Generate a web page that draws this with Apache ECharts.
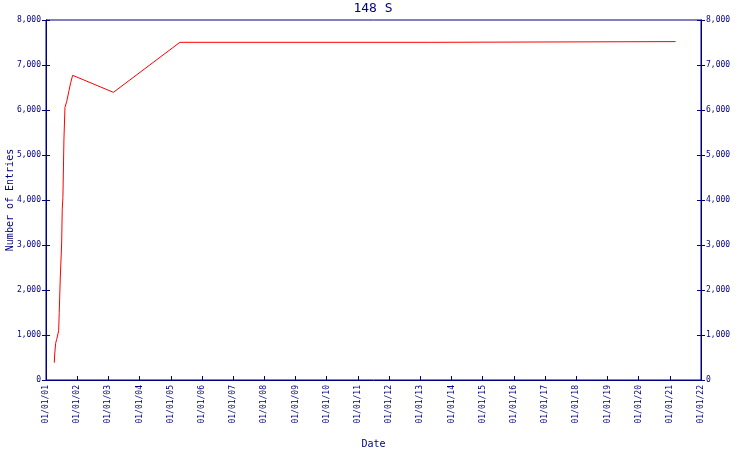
<!DOCTYPE html>
<html>
<head>
<meta charset="utf-8">
<script src="https://cdn.jsdelivr.net/npm/echarts@6/dist/echarts.min.js"></script>
<style>html,body{margin:0;padding:0;background:#fff}#c{width:750px;height:450px}</style>
</head>
<body>
<div id="c"></div>
<script>
var titleText = '148 S';
var xName = 'Date';
var yName = 'Number of Entries';
var dates = ['2001-04-08','2001-04-13','2001-04-24','2001-05-06','2001-05-18','2001-05-29','2001-06-05','2001-06-17','2001-07-03','2001-07-10','2001-07-18','2001-07-30','2001-08-11','2001-08-31','2001-09-27','2001-10-17','2001-11-09','2003-03-01','2005-04-18','2013-04-23','2013-04-24','2021-03-10'];
var entries = [385,578,815,904,1000,1096,1504,2267,3022,3793,4060,5356,6060,6185,6430,6607,6771,6393,7504,7504,7518,7520];
var xMinYear = 2001, xMaxYear = 2022;
var yMin = 0, yMax = 8000, yStep = 1000;

function decYear(s){
  var p = s.split('-').map(Number);
  var y = p[0];
  var t = Date.UTC(y, p[1]-1, p[2]);
  var a = Date.UTC(y,0,1), b = Date.UTC(y+1,0,1);
  return y + (t-a)/(b-a);
}
var seriesData = dates.map(function(d,i){ return [decYear(d), entries[i]]; });

var navy = '#000080';
var font = 'DejaVu Sans Mono';
function fmtNum(v){ return String(v).replace(/\B(?=(\d{3})+(?!\d))/g, ','); }
function fmtDate(v){ var yy = Math.round(v) % 100; return '01/01/' + (yy<10?'0':'') + yy; }

function yAx(pos, inside, showLabel, withName){
  return {
    type:'value', position:pos, min:yMin, max:yMax, interval:yStep,
    name: withName ? yName : '', nameLocation:'middle', nameGap:31, nameMoveOverlap:false,
    nameTextStyle:{color:navy, fontFamily:font, fontSize:10},
    axisLine:{show:true, lineStyle:{color:navy, width:1}},
    axisTick:{show:true, inside:inside, length:4, lineStyle:{color:navy}},
    axisLabel:{show:showLabel, color:navy, fontFamily:font, fontSize:8, margin:5, formatter:fmtNum},
    splitLine:{show:false}
  };
}

var chart = echarts.init(document.getElementById('c'), null, {renderer:'canvas'});
chart.setOption({
  animation:false,
  backgroundColor:'#ffffff',
  title:{text:titleText, left:373, top:2, padding:0, textAlign:'center',
    textStyle:{color:navy, fontFamily:font, fontSize:13, fontWeight:'normal'}},
  grid:{left:46, right:49, top:20, bottom:70, containLabel:false, outerBoundsMode:'none',
    show:true, borderColor:navy, borderWidth:1},
  xAxis:[{
    type:'value', min:xMinYear, max:xMaxYear, interval:1, position:'bottom',
    name:xName, nameLocation:'middle', nameGap:59, nameMoveOverlap:false,
    nameTextStyle:{color:navy, fontFamily:font, fontSize:10},
    axisLine:{show:true, lineStyle:{color:navy, width:1}},
    axisTick:{show:true, inside:true, length:4, lineStyle:{color:navy}},
    axisLabel:{color:navy, fontFamily:font, fontSize:8, rotate:90, margin:5, formatter:fmtDate},
    splitLine:{show:false}
  }],
  yAxis:[
    yAx('left', false, true, true),
    yAx('left', true, false, false),
    yAx('right', false, true, false),
    yAx('right', true, false, false)
  ],
  series:[{
    type:'line', xAxisIndex:0, yAxisIndex:0, data:seriesData,
    showSymbol:false, symbol:'none',
    lineStyle:{color:'#ff0000', width:1}
  }]
});
</script>
</body>
</html>
